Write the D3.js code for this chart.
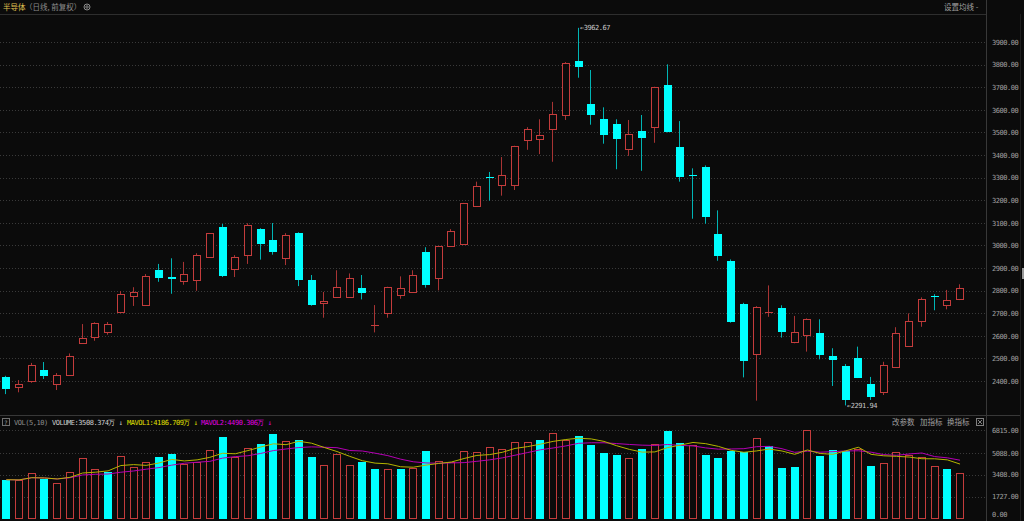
<!DOCTYPE html>
<html>
<head>
<meta charset="utf-8">
<script src="https://cdn.jsdelivr.net/npm/d3@7/dist/d3.min.js"></script>
<style>
html, body { margin: 0; padding: 0; background: #0b0b0b; overflow: hidden; }
.num { font-family: "DejaVu Sans Mono", monospace; font-size: 7px; letter-spacing: -0.45px; }
.cjk { font-family: "Noto Sans CJK SC", sans-serif; font-size: 7.5px; }
</style>
</head>
<body>
<div id="chart"></div>
<script>
//daily candles of the index (76 sessions)
var opens = [2419, 2373, 2401, 2450, 2388, 2428, 2569, 2596, 2618, 2707,
  2776, 2737, 2890, 2861, 2841, 2846, 2947, 3080, 2894, 2956,
  3074, 3023, 2946, 3056, 2847, 2744, 2770, 2770, 2810, 2643,
  2700, 2779, 2795, 2969, 2854, 2999, 3008, 3176, 3303, 3267,
  3269, 3465, 3472, 3515, 3577, 3815, 3626, 3558, 3538, 3425,
  3506, 3523, 3710, 3434, 3310, 3346, 3050, 2932, 2742, 2518,
  2702, 2722, 2571, 2602, 2611, 2511, 2465, 2500, 2387, 2353,
  2463, 2556, 2665, 2776, 2736, 2763];
var highs = [2423, 2404, 2480, 2484, 2435, 2522, 2652, 2660, 2661, 2798,
  2815, 2873, 2918, 2943, 2927, 2965, 3055, 3095, 2957, 3098,
  3076, 3099, 3054, 3058, 2869, 2794, 2890, 2876, 2869, 2736,
  2817, 2863, 2890, 2992, 2998, 3072, 3188, 3282, 3325, 3391,
  3441, 3523, 3558, 3635, 3811, 3962.67, 3776, 3611, 3558, 3555,
  3577, 3702, 3801, 3550, 3341, 3354, 3155, 2938, 2746, 2731,
  2823, 2735, 2688, 2677, 2673, 2545, 2475, 2552, 2418, 2485,
  2638, 2699, 2770, 2784, 2803, 2828];
var lows = [2342, 2350, 2392, 2409, 2360, 2428, 2567, 2578, 2605, 2700,
  2732, 2737, 2839, 2786, 2826, 2799, 2945, 2860, 2860, 2918,
  2937, 2959, 2913, 2820, 2733, 2680, 2768, 2768, 2761, 2615,
  2680, 2764, 2793, 2813, 2801, 2997, 3006, 3174, 3198, 3220,
  3245, 3423, 3404, 3370, 3555, 3742, 3534, 3450, 3337, 3396,
  3330, 3454, 3500, 3282, 3118, 3096, 2932, 2658, 2416, 2313,
  2684, 2592, 2567, 2530, 2496, 2378, 2291.94, 2413, 2316, 2338,
  2461, 2554, 2640, 2713, 2717, 2758];
var closes = [2363, 2387, 2469, 2422, 2425, 2509, 2589, 2658, 2651, 2786,
  2792, 2865, 2856, 2853, 2872, 2956, 3053, 2866, 2949, 3089,
  3008, 2969, 3045, 2848, 2736, 2753, 2815, 2857, 2791, 2646,
  2815, 2810, 2870, 2825, 2996, 3062, 3186, 3263, 3298, 3310,
  3438, 3516, 3487, 3581, 3808, 3791, 3578, 3490, 3471, 3492,
  3474, 3700, 3502, 3303, 3307, 3126, 2954, 2662, 2488, 2729,
  2705, 2618, 2615, 2673, 2515, 2493, 2316, 2415, 2330, 2471,
  2611, 2665, 2763, 2772, 2757, 2813];
//volume in 万
var volumes = [3019, 2990, 3511, 3097, 2766, 3634, 4661, 3818, 3611, 4815,
  3995, 4356, 4740, 4970, 4248, 4402, 5324, 6300, 4786, 5478,
  5762, 6554, 5970, 6092, 4740, 4126, 4994, 4126, 4402, 3818,
  3865, 3865, 3941, 5201, 4479, 4402, 5224, 5124, 5509, 5355,
  5893, 5939, 6046, 6584, 6070, 6400, 5662, 5094, 4917, 4663,
  5355, 5739, 6761, 5862, 5685, 4894, 4687, 5247, 5124, 6200,
  5631, 3918, 3972, 6800, 4840, 5324, 5224, 5378, 4072, 4279,
  5124, 4940, 4740, 4049, 3865, 3508.374];

//axis tick labels
var priceTicks = [3900, 3800, 3700, 3600, 3500, 3400, 3300, 3200, 3100, 3000, 2900, 2800, 2700, 2600, 2500, 2400];
var volumeTicks = [6815, 5088, 3408, 1727, 0];

var width = 1024,
  height = 521,
  plotRight = 986,
  volBottom = 519;

var red = "#c43c3c",
  redWick = "#a83434",
  cyan = "#00ffff",
  cyanWick = "#00b4b4",
  bg = "#0b0b0b",
  gridColor = "#3a3a3a",
  lineColor = "#2e2e2e",
  labelColor = "#a0a0a0";

var svg = d3
  .select("#chart")
  .append("svg")
  .attr("width", width)
  .attr("height", height);

svg.append("rect").attr("width", width).attr("height", height).attr("fill", bg);

var candles = d3.range(closes.length).map(function(i) {
  return {
    i: i,
    open: opens[i],
    high: highs[i],
    low: lows[i],
    close: closes[i],
    volume: volumes[i]
  };
});

//scales
var x = d3
  .scaleBand()
  .domain(d3.range(candles.length))
  .range([0, 966.4])
  .paddingInner(0.37)
  .paddingOuter(0.185);

var y = d3.scaleLinear().domain([2400, 3900]).range([381, 42]);
var vy = d3.scaleLinear().domain([0, 6815]).range([volBottom, 430.3]);

var bw = Math.round(x.bandwidth());
function left(d) {
  return Math.round(x(d.i));
}
function isUp(d) {
  return d.close >= d.open;
}
//volume colour follows the close against the previous close
function volUp(d) {
  if (d.i === 0) return isUp(d);
  return d.close >= closes[d.i - 1];
}

//frame lines
svg.append("line").attr("x1", 0).attr("x2", plotRight).attr("y1", 14.5).attr("y2", 14.5).attr("stroke", lineColor);
svg.append("line").attr("x1", 0).attr("x2", 1021).attr("y1", 415.5).attr("y2", 415.5).attr("stroke", "#383838");
svg.append("line").attr("x1", plotRight + 0.5).attr("x2", plotRight + 0.5).attr("y1", 0).attr("y2", height).attr("stroke", "#383838");
svg.append("line").attr("x1", 1020.5).attr("x2", 1020.5).attr("y1", 14).attr("y2", height).attr("stroke", "#1e1e1e");
svg.append("rect").attr("x", 1022).attr("y", 268).attr("width", 2).attr("height", 11).attr("fill", "#9a9a9a");

//price grid
svg
  .append("g")
  .selectAll("line")
  .data(priceTicks)
  .enter()
  .append("line")
  .attr("x1", 0)
  .attr("x2", plotRight)
  .attr("y1", function(t) { return Math.round(y(t)) + 0.5; })
  .attr("y2", function(t) { return Math.round(y(t)) + 0.5; })
  .attr("stroke", gridColor)
  .attr("stroke-dasharray", "1,2");

//volume grid
svg
  .append("g")
  .selectAll("line")
  .data(volumeTicks.filter(function(t) { return t > 0; }))
  .enter()
  .append("line")
  .attr("x1", 0)
  .attr("x2", plotRight)
  .attr("y1", function(t) { return Math.round(vy(t)) + 0.5; })
  .attr("y2", function(t) { return Math.round(vy(t)) + 0.5; })
  .attr("stroke", gridColor)
  .attr("stroke-dasharray", "1,2");

//right axes
var priceAxis = svg
  .append("g")
  .attr("transform", "translate(" + plotRight + ",0)")
  .call(d3.axisRight(y).tickValues(priceTicks).tickFormat(d3.format(".2f")).tickSize(0).tickPadding(6));
var volAxis = svg
  .append("g")
  .attr("transform", "translate(" + plotRight + ",0)")
  .call(d3.axisRight(vy).tickValues(volumeTicks).tickFormat(d3.format(".2f")).tickSize(0).tickPadding(6));
[priceAxis, volAxis].forEach(function(a) {
  a.select(".domain").remove();
  a.selectAll("text")
    .attr("class", "num")
    .attr("fill", labelColor)
    .style("font-family", null)
    .style("font-size", null);
  a.attr("font-family", null).attr("font-size", null);
});
//the zero label sits a little above the baseline
volAxis.selectAll(".tick text").filter(function(t) { return t === 0; }).attr("dy", "-0.4em");

//candle wicks
svg
  .append("g")
  .selectAll("line")
  .data(candles)
  .enter()
  .append("line")
  .attr("x1", function(d) { return left(d) + bw / 2 - 0.5; })
  .attr("x2", function(d) { return left(d) + bw / 2 - 0.5; })
  .attr("y1", function(d) { return y(d.high); })
  .attr("y2", function(d) { return y(d.low); })
  .attr("stroke", function(d) { return isUp(d) ? redWick : cyanWick; });

//candle bodies: rising ones hollow red, falling ones solid cyan
svg
  .append("g")
  .selectAll("rect")
  .data(candles)
  .enter()
  .append("rect")
  .each(function(d) {
    var top = Math.round(y(Math.max(d.open, d.close)));
    var bot = Math.round(y(Math.min(d.open, d.close)));
    var h = bot - top;
    var r = d3.select(this);
    if (isUp(d) && h >= 2) {
      r.attr("x", left(d) + 0.5)
        .attr("y", top + 0.5)
        .attr("width", bw - 1)
        .attr("height", h)
        .attr("fill", bg)
        .attr("stroke", red);
    } else {
      r.attr("x", left(d))
        .attr("y", top)
        .attr("width", bw)
        .attr("height", Math.max(h, 1))
        .attr("fill", isUp(d) ? red : cyan);
    }
  });

//highest and lowest marks
var hi = d3.maxIndex(highs),
  lo = d3.minIndex(lows);
svg
  .append("text")
  .attr("class", "num")
  .attr("x", left(candles[hi]) + bw / 2 + 1)
  .attr("y", y(highs[hi]) + 2.5)
  .attr("fill", "#c8c8c8")
  .text("\u2190" + d3.format(".2f")(highs[hi]));
svg
  .append("text")
  .attr("class", "num")
  .attr("x", left(candles[lo]) + bw / 2 + 1)
  .attr("y", y(lows[lo]) + 2.5)
  .attr("fill", "#c8c8c8")
  .text("\u2190" + d3.format(".2f")(lows[lo]));

//volume bars
svg
  .append("g")
  .selectAll("rect")
  .data(candles)
  .enter()
  .append("rect")
  .each(function(d) {
    var top = Math.round(vy(d.volume));
    var r = d3.select(this);
    if (volUp(d)) {
      r.attr("x", left(d) + 0.5)
        .attr("y", top + 0.5)
        .attr("width", bw - 1)
        .attr("height", volBottom - top - 1)
        .attr("fill", bg)
        .attr("stroke", red);
    } else {
      r.attr("x", left(d))
        .attr("y", top)
        .attr("width", bw)
        .attr("height", volBottom - top)
        .attr("fill", cyan);
    }
  });

//5 and 10 day volume averages
function movingAverage(n) {
  return volumes.map(function(v, i) {
    return d3.mean(volumes.slice(Math.max(0, i - n + 1), i + 1));
  });
}
var maLine = d3
  .line()
  .x(function(v, i) { return x(i) + x.bandwidth() / 2; })
  .y(function(v) { return vy(v); });
svg.append("path").attr("d", maLine(movingAverage(10))).attr("fill", "none").attr("stroke", "#b400b4");
svg.append("path").attr("d", maLine(movingAverage(5))).attr("fill", "none").attr("stroke", "#b4b400");

//title row
svg.append("text").attr("class", "cjk").attr("x", 3).attr("y", 10).attr("fill", "#e0c050").text("半导体");
svg.append("text").attr("class", "cjk").attr("x", 25).attr("y", 10).attr("fill", "#8c8c8c").text("（日线, 前复权）");
svg.append("circle").attr("cx", 87).attr("cy", 7).attr("r", 3).attr("fill", "none").attr("stroke", "#8c8c8c");
svg.append("circle").attr("cx", 87).attr("cy", 7).attr("r", 1.2).attr("fill", "none").attr("stroke", "#8c8c8c");
svg.append("text").attr("class", "cjk").attr("x", 944).attr("y", 10).attr("fill", "#a0a0a0").text("设置均线 -");

//volume header row
svg.append("rect").attr("x", 2.5).attr("y", 418.5).attr("width", 7).attr("height", 7).attr("fill", "none").attr("stroke", "#707070");
svg.append("text").attr("class", "num").attr("x", 4).attr("y", 424.5).attr("fill", "#a0a0a0").style("font-size", "6px").text("?");
var header = [
  { x: 14, text: "VOL(5,10)", color: "#8c8c8c" },
  { x: 52, text: "VOLUME:3508.374万 \u2193", color: "#d0d0d0" },
  { x: 127, text: "MAVOL1:4186.709万 \u2193", color: "#e0e000" },
  { x: 201, text: "MAVOL2:4490.306万 \u2193", color: "#e000e0" }
];
header.forEach(function(h) {
  svg.append("text").attr("class", "num").attr("x", h.x).attr("y", 425).attr("fill", h.color).text(h.text);
});
[
  { x: 892, text: "改参数" },
  { x: 920, text: "加指标" },
  { x: 947, text: "换指标" }
].forEach(function(b) {
  svg.append("text").attr("class", "cjk").attr("x", b.x).attr("y", 425).attr("fill", "#a0a0a0").text(b.text);
});
svg.append("rect").attr("x", 976.5).attr("y", 418.5).attr("width", 7).attr("height", 7).attr("fill", "none").attr("stroke", "#808080");
svg.append("path").attr("d", "M978,420L982,424M982,420L978,424").attr("stroke", "#808080");
</script>
</body>
</html>
